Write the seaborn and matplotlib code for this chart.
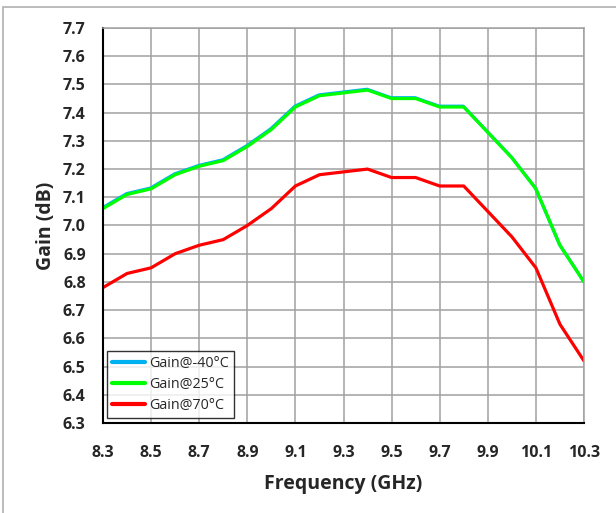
import matplotlib
matplotlib.use("Agg")
import matplotlib.pyplot as plt
from matplotlib.patches import Rectangle
from matplotlib.ticker import MultipleLocator
import matplotlib.font_manager as fm
import numpy as np
import pandas as pd
import seaborn as sns

# Measured gain versus frequency at three temperatures
freq_ghz = [8.3, 8.4, 8.5, 8.6, 8.7, 8.8, 8.9, 9.0, 9.1, 9.2, 9.3,
            9.4, 9.5, 9.6, 9.7, 9.8, 9.9, 10.0, 10.1, 10.2, 10.3]
gain_m40 = [7.06, 7.11, 7.13, 7.18, 7.21, 7.23, 7.28, 7.34, 7.42, 7.46, 7.47,
            7.48, 7.45, 7.45, 7.42, 7.42, 7.33, 7.24, 7.13, 6.93, 6.80]
gain_25 = [7.06, 7.11, 7.13, 7.18, 7.21, 7.23, 7.28, 7.34, 7.42, 7.46, 7.47,
           7.48, 7.45, 7.45, 7.42, 7.42, 7.33, 7.24, 7.13, 6.93, 6.80]
gain_70 = [6.78, 6.83, 6.85, 6.90, 6.93, 6.95, 7.00, 7.06, 7.14, 7.18, 7.19,
           7.20, 7.17, 7.17, 7.14, 7.14, 7.05, 6.96, 6.85, 6.65, 6.52]
series_names = ["Gain@-40°C", "Gain@25°C", "Gain@70°C"]
x_ticks = [8.3, 8.5, 8.7, 8.9, 9.1, 9.3, 9.5, 9.7, 9.9, 10.1, 10.3]

df = pd.concat([
    pd.DataFrame({"freq": freq_ghz, "gain": g, "series": name})
    for g, name in zip([gain_m40, gain_25, gain_70], series_names)
], ignore_index=True)

sns.set_style("white")
plt.rcParams["font.family"] = ["Open Sans", "DejaVu Sans"]

fig = plt.figure(figsize=(6.16, 5.13), dpi=100)
ax = fig.add_axes([103 / 616, 1 - 423 / 513, 481 / 616, 395 / 513])

# outer chart frame
fig.patches.append(Rectangle((3 / 616, -0.05), 1.2, 1 - 7.5 / 513 + 0.05,
                             transform=fig.transFigure, fill=False,
                             edgecolor="#b0b0b0", linewidth=1.2, zorder=0))

palette = {"Gain@-40°C": "#00b0f0", "Gain@25°C": "#00ff00", "Gain@70°C": "#ff0000"}
sns.lineplot(data=df, x="freq", y="gain", hue="series", hue_order=series_names,
             palette=palette, linewidth=2.3, ax=ax, legend=True, sort=False,
             estimator=None)
# slight offset so the cold-temperature trace peeks out under the 25°C trace
ax.lines[0].set_transform(ax.lines[0].get_transform() +
                          matplotlib.transforms.ScaledTranslation(-0.5 / 100, 0.8 / 100, fig.dpi_scale_trans))

ax.set_xlim(8.3, 10.3)
ax.set_ylim(6.3, 7.7)
ax.set_xticks(x_ticks)
ax.set_xticklabels([f"{v:.1f}" for v in x_ticks])
ax.xaxis.set_minor_locator(MultipleLocator(0.1))
ax.yaxis.set_major_locator(MultipleLocator(0.1))
ax.yaxis.set_minor_locator(MultipleLocator(0.05))
ax.yaxis.set_major_formatter(matplotlib.ticker.FormatStrFormatter("%.1f"))

ax.grid(True, which="major", color="#a0a0a0", linewidth=1.1)
ax.set_axisbelow(True)

for side in ("top", "right"):
    ax.spines[side].set_color("#a0a0a0")
    ax.spines[side].set_linewidth(1.1)
for side in ("left", "bottom"):
    ax.spines[side].set_color("black")
    ax.spines[side].set_linewidth(1.5)

bold_tick = fm.FontProperties(family=["Open Sans", "DejaVu Sans"], weight="bold", size=11.5)
ax.tick_params(axis="both", which="major", direction="out", length=4.5, width=1.2,
               color="black")
ax.tick_params(axis="both", which="minor", direction="out", length=3, width=1.0,
               color="#404040")
ax.tick_params(axis="x", which="major", pad=11)
ax.tick_params(axis="y", which="major", pad=8)
for lbl in ax.get_xticklabels() + ax.get_yticklabels():
    lbl.set_fontproperties(bold_tick)

label_font = fm.FontProperties(family=["Open Sans", "DejaVu Sans"], weight="bold", size=14)
ax.set_xlabel("Frequency (GHz)", fontproperties=label_font, labelpad=10)
ax.set_ylabel("Gain (dB)", fontproperties=label_font, labelpad=5)

leg = ax.legend(loc="lower left", bbox_to_anchor=(0.008, 0.013), frameon=True,
                fancybox=False, edgecolor="black", fontsize=10.3, handlelength=2.3,
                handletextpad=0.3, borderpad=0.35, labelspacing=0.4,
                borderaxespad=0.0)
leg.get_frame().set_linewidth(1.0)
for h in leg.get_lines():
    h.set_linewidth(3)

fig.savefig("out.png", dpi=100)
